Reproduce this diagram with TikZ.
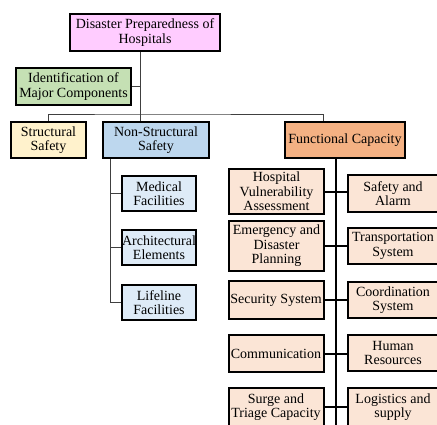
\documentclass[tikz,border=0pt]{standalone}
\usepackage{fontspec}
\usetikzlibrary{calc}
\setmainfont{Liberation Serif}
\definecolor{cpink}{HTML}{FFCCFF}
\definecolor{cgreen}{HTML}{C5E0B4}
\definecolor{cyellow}{HTML}{FFF2CC}
\definecolor{cblue}{HTML}{BDD7EE}
\definecolor{corange}{HTML}{F4B183}
\definecolor{clblue}{HTML}{DEEBF7}
\definecolor{cpeach}{HTML}{FBE5D6}
\definecolor{cline}{HTML}{404040}
\begin{document}
\begin{tikzpicture}[x=1pt,y=-1pt,
  box/.style={fill=black,align=center,inner sep=0.5pt,
    font=\fontsize{14}{14.5}\selectfont,
    path picture={\fill[#1] ([shift={(2pt,2pt)}]path picture bounding box.south west)
      rectangle ([shift={(-2pt,-2pt)}]path picture bounding box.north east);}},
  thinline/.style={draw=cline,line width=1pt},
  thickline/.style={fill=black}]
\useasboundingbox (0,0) rectangle (437,424);
\clip (0,0) rectangle (437,424);
\node[box=cpink,minimum width=152pt,minimum height=39pt] (top) at (145,32.5) {Disaster Preparedness of\\Hospitals};
\node[box=cgreen,minimum width=117pt,minimum height=39pt] (ident) at (73.5,86.5) {Identification of\\Major Components};
\node[box=cyellow,minimum width=77pt,minimum height=38pt] (struct) at (48.5,140) {Structural\\Safety};
\node[box=cblue,minimum width=108pt,minimum height=38pt] (nons) at (156,140) {Non-Structural\\Safety};
\node[box=corange,minimum width=122pt,minimum height=38pt] (func) at (345,140) {Functional Capacity};
\node[box=clblue,minimum width=76pt,minimum height=37pt] (med) at (159,193.5) {Medical\\Facilities};
\node[box=clblue,minimum width=76pt,minimum height=37pt] (arch) at (159,247.5) {Architectural\\Elements};
\node[box=clblue,minimum width=76pt,minimum height=37pt] (life) at (159,302.5) {Lifeline\\Facilities};
\node[box=cpeach,minimum width=97pt,minimum height=47pt] (hva) at (276.5,191.5) {Hospital\\Vulnerability\\Assessment};
\node[box=cpeach,minimum width=97pt,minimum height=52pt] (emer) at (276.5,246) {Emergency and\\Disaster\\Planning};
\node[box=cpeach,minimum width=97pt,minimum height=40pt] (sec) at (276,300) {Security System};
\node[box=cpeach,minimum width=97pt,minimum height=39pt] (comm) at (276,353.5) {Communication};
\node[box=cpeach,minimum width=97pt,minimum height=40pt] (surge) at (276,407) {Surge and\\Triage Capacity};
\node[box=cpeach,minimum width=92pt,minimum height=39pt] (safe) at (393,193.5) {Safety and\\Alarm};
\node[box=cpeach,minimum width=92pt,minimum height=38pt] (trans) at (393,246) {Transportation\\System};
\node[box=cpeach,minimum width=92pt,minimum height=38pt] (coord) at (393,300) {Coordination\\System};
\node[box=cpeach,minimum width=92pt,minimum height=38pt] (hr) at (393,353) {Human\\Resources};
\node[box=cpeach,minimum width=92pt,minimum height=40pt] (logi) at (393,407) {Logistics and\\supply};
% top tree
\coordinate (tt) at (140,52);
\coordinate (bar) at (140,114);
\coordinate (ns) at (110,159);
\coordinate (ft) at (336,159);
\coordinate (fb) at (336,430);
\draw[thinline] (tt) -- (140,121);
\draw[thinline] (ident.east) -- (ident.east -| tt);
\draw[thinline] (struct.north) |- (bar) -| (323,121);
\draw[thinline] (ns) -- (ns |- life.west) -- (life.west);
\draw[thinline] (ns |- med.west) -- (med.west);
\draw[thinline] (ns |- arch.west) -- (arch.west);
% functional (thick connectors as filled bars)
\fill[thickline] ($(ft)+(-1,0)$) rectangle ($(fb)+(1,0)$);
\fill[thickline] ($(hva.east)+(0,-1)$) rectangle ($(hva.east -| safe.west)+(0,1)$);
\fill[thickline] ($(emer.east)+(0,-1)$) rectangle ($(emer.east -| trans.west)+(0,1)$);
\fill[thickline] ($(sec.east)+(0,-1)$) rectangle ($(sec.east -| coord.west)+(0,1)$);
\fill[thickline] ($(comm.east)+(0,-1)$) rectangle ($(comm.east -| hr.west)+(0,1)$);
\fill[thickline] ($(surge.east)+(0,-1)$) rectangle ($(surge.east -| logi.west)+(0,1)$);
\end{tikzpicture}
\end{document}
